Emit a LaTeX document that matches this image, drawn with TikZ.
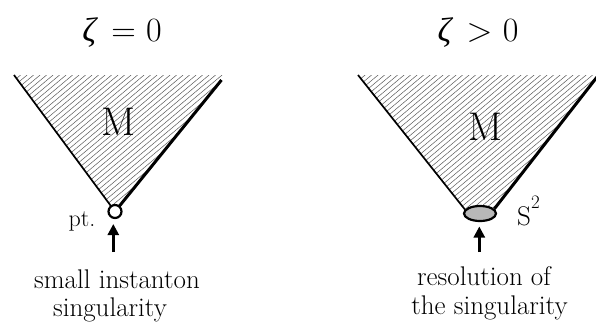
\documentclass[tikz,border=0pt]{standalone}
\usepackage{fontspec}
\newfontfamily\greekfont{Liberation Serif}
\usetikzlibrary{arrows.meta,shapes.geometric}
\begin{document}
\begin{tikzpicture}[x=1pt,y=-1pt,
  thinedge/.style={line width=1.7pt},
  thickedge/.style={line width=3pt},
  hatchline/.style={line width=0.5pt,black!65},
  upar/.style={line width=2.5pt,-{Triangle[length=11pt,width=11pt]}},
  title/.style={font=\fontsize{34}{36}\selectfont,anchor=base,inner sep=0pt},
  mlabel/.style={font=\fontsize{40}{40}\selectfont,inner sep=0pt},
  body/.style={font=\fontsize{27}{29}\selectfont,anchor=base,inner sep=0pt}]
\useasboundingbox (0,0) rectangle (596,325);
% hatching
\begin{scope}
  \clip (14,75) -- (224,75) -- (119,207) -- (111,207) -- cycle
        (358,75) -- (600,75) -- (494,210) -- (466,212) -- cycle;
  \foreach \i in {-240,-233.5,...,450}
    \draw[hatchline] (\i,250) -- ++(298,-250);
\end{scope}
% coordinates
\coordinate (LA) at (14,75);
\coordinate (LB) at (221.5,80);
\coordinate (RA) at (358,75);
\coordinate (RB) at (597,77);
% left cone
\draw[thinedge] (LA) -- (115,211.5);
\draw[thickedge] (LB) -- (115,211.5);
\node[circle,draw,line width=2.2pt,minimum size=13pt,inner sep=0pt,fill=white] (apex) at (115,211.5) {};
% right cone
\node[ellipse,draw,line width=2.2pt,minimum width=32pt,minimum height=15pt,inner sep=0pt,fill=black!28] (S) at (480,213.5) {};
\draw[thinedge] (RA) -- (S.165);
\draw[thickedge] (RB) -- (S.18);
% titles
\node[title] (t1) at (122,41) {{\greekfont\itshape ζ}\hspace{0.45em}= 0};
\node[title] (t2) at (478,41) {{\greekfont\itshape ζ}\hspace{0.45em}> 0};
% M labels
\node[mlabel] (m1) at (118.5,121.5) {M};
\node[mlabel] (m2) at (485,126.5) {M};
% small labels
\node[font=\fontsize{24}{26}\selectfont,anchor=base,inner sep=0pt] (pt) at (82,226.5) {pt.};
\node[font=\fontsize{27}{28}\selectfont,anchor=base west,inner sep=0pt] (s2) at (517,225) {S\raisebox{0.6em}{\fontsize{19}{20}\selectfont 2}};
% arrows
\coordinate (a1s) at (113.3,252);
\coordinate (a1e) at (113.3,224);
\coordinate (a2s) at (479.3,252);
\coordinate (a2e) at (479.3,226.5);
\draw[upar] (a1s) -- (a1e);
\draw[upar] (a2s) -- (a2e);
% captions
\node[body] (c1) at (117,288) {small instanton};
\node[body] (c2) at (110,316) {singularity};
\node[body] (c3) at (484,285) {resolution of};
\node[body] (c4) at (489.5,314) {the singularity};
\end{tikzpicture}
\end{document}
